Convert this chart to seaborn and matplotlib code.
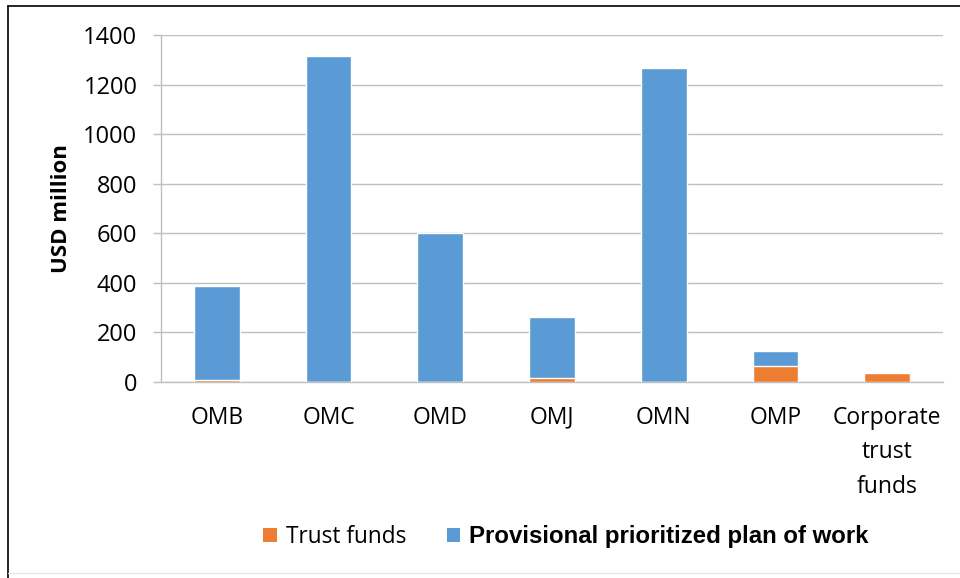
import matplotlib
matplotlib.use("Agg")
import matplotlib.pyplot as plt
import seaborn as sns
import pandas as pd
import numpy as np
from matplotlib.patches import Patch
from matplotlib.lines import Line2D

categories = ["OMB", "OMC", "OMD", "OMJ", "OMN", "OMP", "Corporate\ntrust\nfunds"]
trust_funds = [8, 0, 0, 15, 0, 65, 36]
plan_of_work = [380, 1315, 601, 247, 1267, 60, 0]
y_ticks = [0, 200, 400, 600, 800, 1000, 1200, 1400]

ORANGE = "#ED7D31"
BLUE = "#5B9BD5"
GRID = "#BFBFBF"

sns.set_theme(style="white")
plt.rcParams["font.family"] = ["Open Sans", "DejaVu Sans"]
plt.rcParams["text.color"] = "black"
plt.rcParams["axes.labelcolor"] = "black"

df = pd.DataFrame({
    "category": categories,
    "trust": trust_funds,
    "total": [t + p for t, p in zip(trust_funds, plan_of_work)],
})

fig = plt.figure(figsize=(9.6, 5.78), dpi=100)
ax = fig.add_axes([0.1677, 0.3391, 0.8146, 0.6003])

sns.barplot(data=df, x="category", y="total", color=BLUE, width=0.41,
            saturation=1, ax=ax, zorder=3)
sns.barplot(data=df, x="category", y="trust", color=ORANGE, width=0.41,
            saturation=1, ax=ax, zorder=4)

ax.set_xlim(-0.5, len(categories) - 0.5)
ax.set_ylim(0, 1400)
ax.set_yticks(y_ticks)
ax.set_yticklabels([str(v) for v in y_ticks], fontsize=17, color="#000000")
ax.yaxis.grid(True, color=GRID, linewidth=1, zorder=0)
ax.set_axisbelow(True)

ax.set_xticks(range(len(categories)))
ax.set_xticklabels(categories, fontsize=16.5, color="#000000", linespacing=1.6)
ax.set_xticks(np.arange(-0.5, len(categories), 1.0), minor=True)
ax.tick_params(axis="x", which="major", length=0, pad=17)
ax.tick_params(axis="x", which="minor", length=7, color=GRID, width=1, direction="out")
ax.tick_params(axis="y", which="major", length=6, color=GRID, width=1, pad=11, left=True)

ax.set_xlabel("")
ax.set_ylabel("USD million", fontsize=16, fontweight="bold", labelpad=8, color="black")

for s in ["top", "right"]:
    ax.spines[s].set_visible(False)
for s in ["left", "bottom"]:
    ax.spines[s].set_color(GRID)
    ax.spines[s].set_linewidth(1)

handles = [Patch(facecolor=ORANGE, edgecolor="none"), Patch(facecolor=BLUE, edgecolor="none")]
leg = fig.legend(handles, ["Trust funds", "Provisional prioritized plan of work"],
                 loc="center", bbox_to_anchor=(0.5896, 0.071), ncol=2, frameon=False,
                 fontsize=16.3, handlelength=0.6, handleheight=0.6, handletextpad=0.4,
                 columnspacing=1.8, labelcolor="black")
texts = leg.get_texts()
texts[1].set_fontfamily(["Liberation Sans", "DejaVu Sans"])
texts[1].set_fontweight("bold")
texts[1].set_fontsize(17.3)

# outer frame lines
fig.add_artist(Line2D([0.0085, 0.0085], [0, 0.99], transform=fig.transFigure, color="black", lw=1.2))
fig.add_artist(Line2D([0.0085, 1.0], [0.99, 0.99], transform=fig.transFigure, color="black", lw=1.2))
fig.add_artist(Line2D([0.0085, 1.0], [0.009, 0.009], transform=fig.transFigure, color="#E8E8E8", lw=1))

fig.savefig("out.png", dpi=100)
